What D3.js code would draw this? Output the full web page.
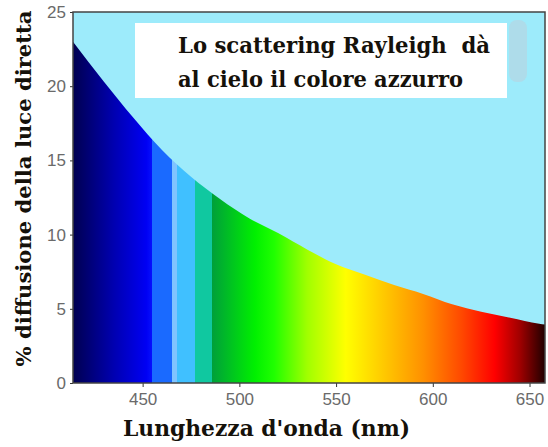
<!DOCTYPE html>
<html>
<head>
<meta charset="utf-8">
<script src="https://cdn.jsdelivr.net/npm/d3@7"></script>
<style>
  html, body { margin: 0; padding: 0; background: #fff; }
  svg { display: block; }
</style>
</head>
<body>
<div id="chart"></div>
<script>
// curve: wavelength (nm) -> % scattering
const wavelengths = [414, 430, 445, 460, 475, 490, 505, 520, 535, 550, 565, 580, 595, 610, 625, 640, 655, 658];
const scatterPct = [23.0, 20.3, 17.9, 15.7, 13.9, 12.4, 11.1, 10.1, 9.0, 8.0, 7.3, 6.6, 6.0, 5.3, 4.8, 4.4, 4.0, 3.95];

// spectrum colours under the curve (nm, colour); repeated nm = hard edge
const spectrumNm = [414, 435, 452, 455, 455, 465, 465, 468, 468, 477, 477, 486, 486, 508, 518, 535, 555, 575, 595, 615, 632, 645, 658];
const spectrumColors = ["#000050", "#0000b0", "#0000f4", "#0610ff", "#1a6aff", "#1a6aff", "#80c4ff", "#80c4ff",
    "#40c0ff", "#40c0ff", "#10c8a0", "#10c8a0", "#00a03a", "#00f000", "#20ff00", "#a0ff00", "#ffff00",
    "#ffc800", "#ff9000", "#ff4800", "#ff0000", "#a00000", "#200000"];

const xTicks = [450, 500, 550, 600, 650];
const yTicks = [0, 5, 10, 15, 20, 25];

const titleLines = ["Lo scattering Rayleigh  dà", "al cielo il colore azzurro"];
const xTitle = "Lunghezza d'onda (nm)";
const yTitle = "% diffusione della luce diretta";

// dimensions
const width = 548, height = 447;
const margin = { top: 12, right: 3, bottom: 64, left: 73 };
const plotW = width - margin.left - margin.right,
    plotH = height - margin.top - margin.bottom;

const svg = d3.select("#chart")
    .append("svg")
    .attr("width", width)
    .attr("height", height);

const x = d3.scaleLinear().domain([414, 658]).range([margin.left, margin.left + plotW]);
const y = d3.scaleLinear().domain([0, 25]).range([margin.top + plotH, margin.top]);

// gradient following the x scale
const grad = svg.append("defs")
    .append("linearGradient")
    .attr("id", "spectrum")
    .attr("gradientUnits", "userSpaceOnUse")
    .attr("x1", x(414)).attr("x2", x(658))
    .attr("y1", 0).attr("y2", 0);

grad.selectAll("stop")
    .data(spectrumNm)
    .join("stop")
    .attr("offset", d => (x(d) - x(414)) / (x(658) - x(414)))
    .attr("stop-color", (d, i) => spectrumColors[i]);

// sky background
svg.append("rect")
    .attr("x", margin.left).attr("y", margin.top)
    .attr("width", plotW).attr("height", plotH)
    .attr("fill", "#9debfb");

// area under the curve
const area = d3.area()
    .x(d => x(d[0]))
    .y0(y(0))
    .y1(d => y(d[1]))
    .curve(d3.curveMonotoneX);

svg.append("path")
    .datum(wavelengths.map((w, i) => [w, scatterPct[i]]))
    .attr("d", area)
    .attr("fill", "url(#spectrum)");

// small smudge at top right of the original
svg.append("rect")
    .attr("x", 509).attr("y", 20)
    .attr("width", 18).attr("height", 62)
    .attr("rx", 8)
    .attr("fill", "#aedcea");

// text box
svg.append("rect")
    .attr("x", 135).attr("y", 23)
    .attr("width", 372).attr("height", 75)
    .attr("fill", "#fff");

const titleLen = [312, 285];
titleLines.forEach((line, i) => {
    svg.append("text")
        .attr("x", 178)
        .attr("y", 53 + i * 34)
        .attr("textLength", titleLen[i])
        .attr("lengthAdjust", "spacingAndGlyphs")
        .style("white-space", "pre")
        .style("font-family", "'DejaVu Serif', serif")
        .style("font-size", "22px")
        .style("font-weight", "bold")
        .style("fill", "#15110a")
        .text(line);
});

// axes
const axisFont = g => g.selectAll("text")
    .style("font-family", "'Liberation Sans', Arial, sans-serif")
    .style("font-size", "17px")
    .style("fill", "#6a6a6a");

svg.append("g")
    .attr("transform", `translate(0,${y(0)})`)
    .call(d3.axisBottom(x).tickValues(xTicks).tickSize(4).tickSizeOuter(0).tickPadding(6))
    .call(g => g.select(".domain").remove())
    .call(g => g.selectAll("line").attr("stroke", "#333"))
    .call(axisFont);

svg.append("g")
    .attr("transform", `translate(${margin.left},0)`)
    .call(d3.axisLeft(y).tickValues(yTicks).tickSize(3).tickSizeOuter(0).tickPadding(4))
    .call(g => g.select(".domain").remove())
    .call(g => g.selectAll("line").attr("stroke", "#333"))
    .call(axisFont);

// frame
svg.append("rect")
    .attr("x", margin.left).attr("y", margin.top)
    .attr("width", plotW).attr("height", plotH)
    .attr("fill", "none")
    .attr("stroke", "#444")
    .attr("stroke-width", 1.5);

// axis titles
svg.append("text")
    .attr("x", 123)
    .attr("y", 436)
    .attr("textLength", 287)
    .attr("lengthAdjust", "spacingAndGlyphs")
    .style("font-family", "'DejaVu Serif', serif")
    .style("font-size", "22px")
    .style("font-weight", "bold")
    .style("fill", "#15110a")
    .text(xTitle);

svg.append("text")
    .attr("transform", `translate(31,${(10 + 367) / 2}) rotate(-90)`)
    .attr("text-anchor", "middle")
    .attr("textLength", 356)
    .attr("lengthAdjust", "spacingAndGlyphs")
    .style("font-family", "'DejaVu Serif', serif")
    .style("font-size", "21px")
    .style("font-weight", "bold")
    .style("fill", "#15110a")
    .text(yTitle);
</script>
</body>
</html>
